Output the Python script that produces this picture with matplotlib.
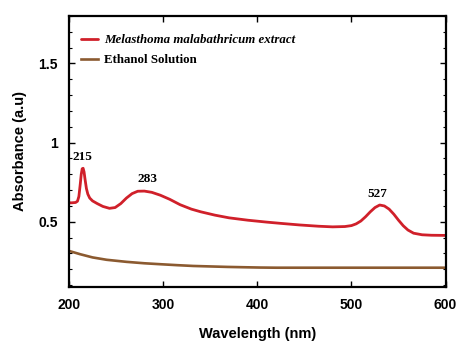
import matplotlib
matplotlib.use("Agg")
import matplotlib.pyplot as plt
from matplotlib.ticker import MultipleLocator, FixedLocator, FixedFormatter

# Data
wl_extract = [200, 203, 207, 209, 210.5, 212, 213, 214, 215, 216, 217, 218.5, 220, 222, 225, 230,
              236, 243, 249, 255, 261, 267, 273, 280, 288, 297, 307, 318, 330, 340, 355,
              370, 390, 410, 425, 445, 465, 480, 493, 500, 505, 510, 515, 520, 525, 530,
              535, 540, 545, 550, 555, 560, 566, 575, 585, 600]
abs_extract = [0.62, 0.62, 0.622, 0.63, 0.66, 0.74, 0.80, 0.835, 0.838, 0.815, 0.77, 0.71, 0.675, 0.65, 0.632, 0.615,
               0.597, 0.585, 0.59, 0.615, 0.65, 0.678, 0.693, 0.694, 0.686, 0.668, 0.642, 0.608, 0.58, 0.563, 0.542,
               0.525, 0.51, 0.498, 0.49, 0.48, 0.472, 0.468, 0.47, 0.476, 0.487, 0.505, 0.532, 0.563, 0.59, 0.606,
               0.6, 0.58, 0.548, 0.51, 0.475, 0.448, 0.428, 0.418, 0.415, 0.414]

wl_ethanol = [200, 212, 225, 240, 261, 280, 297, 315, 332, 350, 368, 385, 403, 420, 450, 500, 550, 600]
abs_ethanol = [0.316, 0.295, 0.275, 0.26, 0.247, 0.238, 0.232, 0.226, 0.221, 0.218, 0.215, 0.213, 0.211, 0.21, 0.21, 0.21, 0.21, 0.21]

peak_labels = ["215", "283", "527"]
peak_pos = [(214, 0.87), (283, 0.73), (527, 0.64)]

series_names = ["Melasthoma malabathricum extract", "Ethanol Solution"]

xticks = [200, 300, 400, 500, 600]
yticks = [0.5, 1.0, 1.5]
ytick_labels = ["0.5", "1", "1.5"]

fig = plt.figure(figsize=(4.58, 3.42), dpi=100)
ax = fig.add_axes([69/458, 1 - 286.7/342, (445.6-69)/458, (286.7-16)/342])

red = "#d0202a"
brown = "#8b5a30"
l1, = ax.plot(wl_extract, abs_extract, color=red, lw=2.0, solid_capstyle="round")
l2, = ax.plot(wl_ethanol, abs_ethanol, color=brown, lw=1.9)

ax.set_xlim(200, 600)
ax.set_ylim(0.09, 1.8)

ax.xaxis.set_major_locator(FixedLocator(xticks))
ax.yaxis.set_major_locator(FixedLocator(yticks))
ax.yaxis.set_major_formatter(FixedFormatter(ytick_labels))
ax.yaxis.set_minor_locator(MultipleLocator(0.1))

for s in ax.spines.values():
    s.set_linewidth(1.6)

ax.tick_params(which="both", direction="in", top=True, right=True)
ax.tick_params(which="major", length=4, width=1.0)
ax.tick_params(which="minor", length=2.5, width=0.8)
ax.tick_params(axis="x", pad=8)
ax.tick_params(axis="y", pad=8)
for lab in ax.get_xticklabels() + ax.get_yticklabels():
    lab.set_fontfamily("Liberation Sans")
    lab.set_fontweight("bold")
    lab.set_fontsize(10)

ax.set_xlabel("Wavelength (nm)", fontfamily="Liberation Sans", fontweight="bold", fontsize=10.5, labelpad=11)
ax.set_ylabel("Absorbance (a.u)", fontfamily="Liberation Sans", fontweight="bold", fontsize=10.5, labelpad=8.5)

for lab, (x, y) in zip(peak_labels, peak_pos):
    ax.text(x, y, lab, ha="center", va="bottom", fontfamily="Liberation Serif",
            fontweight="bold", fontsize=9.5)

leg = ax.legend([l1, l2], series_names, loc="upper left", bbox_to_anchor=(0.002, 0.975),
                frameon=False, handlelength=1.3, handletextpad=0.45, labelspacing=0.6,
                prop={"family": "Liberation Serif", "weight": "bold", "size": 9.3})
leg.get_texts()[0].set_fontstyle("italic")

fig.savefig("out.png", dpi=100)
